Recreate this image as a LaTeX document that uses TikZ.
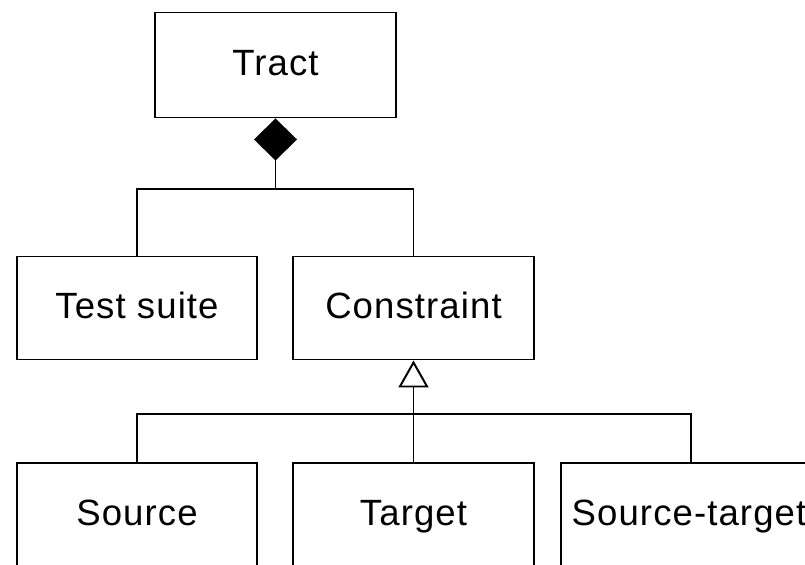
\documentclass[tikz,border=0pt]{standalone}
\usepackage{fontspec}
\setmainfont{Liberation Sans}[LetterSpace=3]
\usetikzlibrary{arrows.meta}
\tikzset{
  klass/.style={draw, line width=1.4pt, inner sep=0pt, minimum width=6.025cm,
    minimum height=2.575cm, text height=19pt, text depth=4pt,
    font=\fontsize{26}{31}\selectfont},
  link/.style={line width=1.4pt},
}
\begin{document}
\begin{tikzpicture}
\useasboundingbox (0,0) rectangle (20.125,-14.125);
\clip (0,0) rectangle (20.125,-14.125);
% classes
\node[klass, minimum height=2.625cm] (tract) at (6.8875,-1.625) {Tract};
\node[klass, minimum width=6cm] (suite) at (3.425,-7.7) {Test suite};
\node[klass] (constraint) at (10.3375,-7.7) {Constraint};
\node[klass, minimum width=6cm] (source) at (3.425,-12.8625) {Source};
\node[klass] (target) at (10.3375,-12.8625) {Target};
\node[klass, minimum width=6.4cm] (srctgt) at (17.225,-12.8625) {Source-target};
% junctions
\path (tract.south) ++(0,-1.7625) coordinate (j1);
\path (constraint.south) ++(0,-1.3375) coordinate (j2);
% composition
\draw[link, {Diamond[width=1.075cm,length=1.05cm]}-] (tract.south) -- (j1);
\draw[link] (suite.north) |- (j1) -| (constraint.north);
% generalisation
\draw[link, {Triangle[open,width=0.75cm,length=0.675cm]}-] (constraint.south) -- (target.north);
\draw[link] (source.north) |- (j2) -| ([xshift=0.05cm]srctgt.north);
\end{tikzpicture}
\end{document}
